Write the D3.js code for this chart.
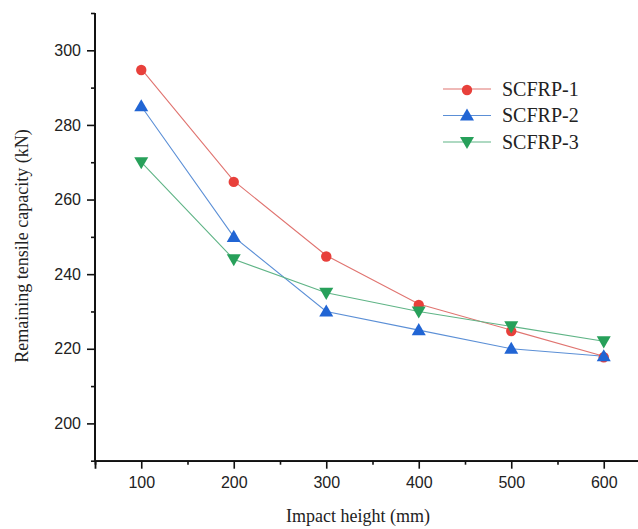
<!DOCTYPE html>
<html><head><meta charset="utf-8">
<script src="https://cdn.jsdelivr.net/npm/d3@7"></script>
<style>body{margin:0;background:#fff}svg{display:block}</style>
</head><body>
<script>
const heights = [100, 200, 300, 400, 500, 600];
const scfrp1 = [295, 265, 245, 232, 225, 218];
const scfrp2 = [285, 250, 230, 225, 220, 218];
const scfrp3 = [270, 244, 235, 230, 226, 222];
const seriesNames = ["SCFRP-1", "SCFRP-2", "SCFRP-3"];
const xTicks = [100, 200, 300, 400, 500, 600];
const yTicks = [200, 220, 240, 260, 280, 300];

const W = 638, H = 529;
const svg = d3.select("body").append("svg").attr("width", W).attr("height", H);
const x = d3.scaleLinear().domain([50, 650]).range([95, 650]);
const y = d3.scaleLinear().domain([190, 310]).range([460.7, 13]);

const series = [
  {name: seriesNames[0], vals: scfrp1, color: "#e8403b", line: "#e07470", sym: d3.symbolCircle, size: 85, rot: 0},
  {name: seriesNames[1], vals: scfrp2, color: "#2165d4", line: "#5b8fd6", sym: d3.symbolTriangle, size: 85, rot: 0},
  {name: seriesNames[2], vals: scfrp3, color: "#27a05a", line: "#5fb486", sym: d3.symbolTriangle, size: 85, rot: 180}
];

// axes
const xMinor = d3.range(150, 651, 100);
const yMinor = d3.range(190, 311, 20);
const gx = svg.append("g").attr("transform", `translate(0,${y(190)})`);
gx.call(d3.axisBottom(x).tickValues(xTicks).tickSize(8).tickPadding(8).tickFormat(d3.format("d")));
gx.append("g").call(d3.axisBottom(x).tickValues(xMinor).tickSize(4).tickFormat(""));
const gy = svg.append("g").attr("transform", `translate(${x(50)},0)`);
gy.call(d3.axisLeft(y).tickValues(yTicks).tickSize(8).tickPadding(6).tickFormat(d3.format("d")));
gy.append("g").call(d3.axisLeft(y).tickValues(yMinor).tickSize(4).tickFormat(""));
svg.selectAll(".domain").attr("stroke", "#111").attr("stroke-width", 1.8);
svg.selectAll(".tick line").attr("stroke", "#111").attr("stroke-width", 1.6);
svg.selectAll(".tick text").attr("font-family", "Liberation Sans, Arial, sans-serif").attr("font-size", 16).attr("fill", "#222");
gy.selectAll(".domain").attr("d", `M-0,${y(310)}V${y(190)}`);

// titles
svg.append("text").attr("x", 358).attr("y", 522).attr("text-anchor", "middle")
  .attr("font-family", "Liberation Serif, Times New Roman, serif").attr("font-size", 18).attr("fill", "#222")
  .text("Impact height (mm)");
svg.append("text").attr("transform", "translate(28,246) rotate(-90)").attr("text-anchor", "middle")
  .attr("font-family", "Liberation Serif, Times New Roman, serif").attr("font-size", 18).attr("fill", "#222")
  .text("Remaining tensile capacity (kN)");

const line = d3.line().x((d, i) => x(heights[i])).y(d => y(d));
series.forEach(s => {
  svg.append("path").attr("d", line(s.vals)).attr("fill", "none").attr("stroke", s.line).attr("stroke-width", 1.1);
});
series.forEach(s => {
  svg.append("g").selectAll("path").data(s.vals).join("path")
    .attr("d", d3.symbol().type(s.sym).size(s.size))
    .attr("transform", (d, i) => `translate(${x(heights[i])},${y(d) + (s.rot ? -1 : 1)}) rotate(${s.rot})`)
    .attr("fill", s.color);
});

// legend
const lg = svg.append("g");
series.forEach((s, i) => {
  const yy = 89 + i * 26.5;
  lg.append("line").attr("x1", 443).attr("x2", 491).attr("y1", yy).attr("y2", yy).attr("stroke", s.line).attr("stroke-width", 1.1);
  lg.append("path").attr("d", d3.symbol().type(s.sym).size(s.size))
    .attr("transform", `translate(467,${yy + (s.rot ? -1 : 1)}) rotate(${s.rot})`).attr("fill", s.color);
  lg.append("text").attr("x", 502).attr("y", yy + 6.5).attr("font-family", "Liberation Serif, Times New Roman, serif")
    .attr("font-size", 20).attr("fill", "#222").text(s.name);
});
</script>
</body></html>
